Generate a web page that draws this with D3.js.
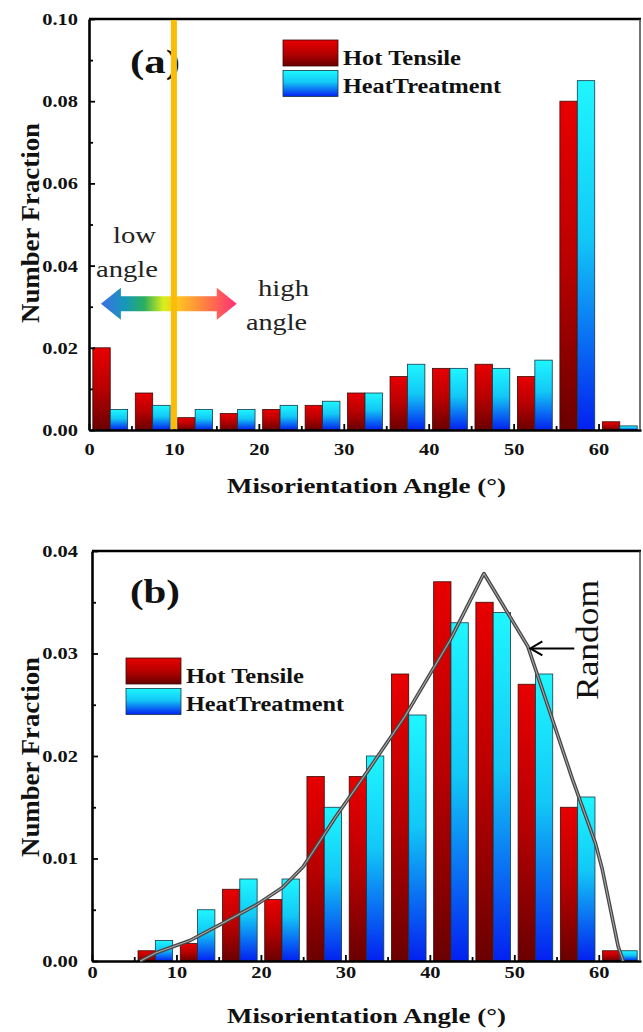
<!DOCTYPE html>
<html>
<head>
<meta charset="utf-8">
<script src="https://cdn.jsdelivr.net/npm/d3@7"></script>
<style>
  body { margin: 0; background: #fff; }
  svg { display: block; }
</style>
</head>
<body>
<div class="viz"></div>
<script>
// bin centres (5 degree bins)
const binCenters = [2.5, 7.5, 12.5, 17.5, 22.5, 27.5, 32.5, 37.5, 42.5, 47.5, 52.5, 57.5, 62.5];

// panel (a)
const hotTensileA = [0.020, 0.009, 0.003, 0.004, 0.005, 0.006, 0.009, 0.013, 0.015, 0.016, 0.013, 0.080, 0.002];
const heatTreatA  = [0.005, 0.006, 0.005, 0.005, 0.006, 0.007, 0.009, 0.016, 0.015, 0.015, 0.017, 0.085, 0.001];

// panel (b)
const hotTensileB = [0, 0.001, 0.0017, 0.007, 0.006, 0.018, 0.018, 0.028, 0.037, 0.035, 0.027, 0.015, 0.001];
const heatTreatB  = [0, 0.002, 0.005, 0.008, 0.008, 0.015, 0.020, 0.024, 0.033, 0.034, 0.028, 0.016, 0.001];

// random (Mackenzie) curve
const randomAngle = [5.7, 7.6, 11.6, 15.5, 19.5, 22.6, 25, 28.8, 32.7, 37, 42.4, 46.4, 51.6, 56.9, 59.6, 60.4, 62.3, 62.9];
const randomFrac  = [0, 0.0008, 0.002, 0.0037, 0.0055, 0.0072, 0.0092, 0.014, 0.0186, 0.0238, 0.0313, 0.0378, 0.0307, 0.0177, 0.0115, 0.009, 0.0014, 0];

const xTicks = [0, 10, 20, 30, 40, 50, 60];
const xMinorTicks = [5, 15, 25, 35, 45, 55];
const yTicksA = [0, 0.02, 0.04, 0.06, 0.08, 0.10];
const yMinorA = [0.01, 0.03, 0.05, 0.07, 0.09];
const yTicksB = [0, 0.01, 0.02, 0.03, 0.04];
const yMinorB = [0.005, 0.015, 0.025, 0.035];
const seriesNames = ["Hot Tensile", "HeatTreatment"];

const serif = '"Liberation Serif", "Times New Roman", serif';
const width = 643, height = 1032;
const barW = 2.05;

const svg = d3.select(".viz").append("svg")
  .attr("width", width)
  .attr("height", height)
  .style("font-family", serif);

const defs = svg.append("defs");

const gRed = defs.append("linearGradient").attr("id", "gradRed")
  .attr("x1", 0).attr("y1", 0).attr("x2", 0).attr("y2", 1);
gRed.append("stop").attr("offset", "0%").attr("stop-color", "#e80000");
gRed.append("stop").attr("offset", "50%").attr("stop-color", "#b80000");
gRed.append("stop").attr("offset", "100%").attr("stop-color", "#6a0000");

const gCyan = defs.append("linearGradient").attr("id", "gradCyan")
  .attr("x1", 0).attr("y1", 0).attr("x2", 0).attr("y2", 1);
gCyan.append("stop").attr("offset", "0%").attr("stop-color", "#1ff6ff");
gCyan.append("stop").attr("offset", "45%").attr("stop-color", "#12c8f6");
gCyan.append("stop").attr("offset", "100%").attr("stop-color", "#0320f0");

const gRainbow = defs.append("linearGradient").attr("id", "gradRainbow")
  .attr("x1", 0).attr("y1", 0).attr("x2", 1).attr("y2", 0);
[["0%", "#3d6ee6"], ["18%", "#1599b8"], ["32%", "#2cae5c"], ["46%", "#d8ee1c"],
 ["58%", "#ffc023"], ["78%", "#ff7a45"], ["100%", "#ff2f78"]].forEach(s =>
  gRainbow.append("stop").attr("offset", s[0]).attr("stop-color", s[1]));

function stretch(sel, k) {
  sel.each(function () {
    const L = this.getComputedTextLength();
    d3.select(this).attr("textLength", L * k).attr("lengthAdjust", "spacingAndGlyphs");
  });
}

function addText(x, y, str, size, weight, len) {
  return svg.append("text")
    .attr("x", x).attr("y", y)
    .attr("font-size", size)
    .attr("font-weight", weight)
    .attr("textLength", len)
    .attr("lengthAdjust", "spacingAndGlyphs")
    .text(str);
}

function drawPanel(o) {
  const x = d3.scaleLinear().domain([0, 65]).range([o.left, o.right]);
  const y = d3.scaleLinear().domain([0, o.yMax]).range([o.bottom, o.top]);
  const g = svg.append("g");

  // bars
  const hot = binCenters.map((c, i) => ({ c, v: o.hot[i] })).filter(d => d.v > 0);
  const heat = binCenters.map((c, i) => ({ c, v: o.heat[i] })).filter(d => d.v > 0);

  g.selectAll(".hot").data(hot).enter().append("rect")
    .attr("x", d => x(d.c - barW))
    .attr("width", d => x(d.c) - x(d.c - barW))
    .attr("y", d => y(d.v))
    .attr("height", d => y(0) - y(d.v))
    .attr("fill", "url(#gradRed)")
    .attr("stroke", "#3a0a0a")
    .attr("stroke-width", 0.8);

  g.selectAll(".heat").data(heat).enter().append("rect")
    .attr("x", d => x(d.c))
    .attr("width", d => x(d.c + barW) - x(d.c))
    .attr("y", d => y(d.v))
    .attr("height", d => y(0) - y(d.v))
    .attr("fill", "url(#gradCyan)")
    .attr("stroke", "#123a48")
    .attr("stroke-width", 0.8);

  // axes
  const xAxis = g.append("g")
    .attr("transform", `translate(0,${o.bottom})`)
    .call(d3.axisBottom(x).tickValues(xTicks).tickSizeInner(-6).tickSizeOuter(0).tickPadding(o.xPad));
  g.append("g")
    .attr("transform", `translate(0,${o.bottom})`)
    .call(d3.axisBottom(x).tickValues(xMinorTicks).tickSizeInner(-4).tickSizeOuter(0).tickFormat(""))
    .call(a => a.select(".domain").remove());

  const yAxis = g.append("g")
    .attr("transform", `translate(${o.left},0)`)
    .call(d3.axisLeft(y).tickValues(o.yTicks).tickSizeInner(-6).tickSizeOuter(0)
      .tickPadding(o.yPad).tickFormat(d3.format(".2f")));
  g.append("g")
    .attr("transform", `translate(${o.left},0)`)
    .call(d3.axisLeft(y).tickValues(o.yMinor).tickSizeInner(-4).tickSizeOuter(0).tickFormat(""))
    .call(a => a.select(".domain").remove());

  [xAxis, yAxis].forEach(a => {
    a.select(".domain").attr("stroke", "#000").attr("stroke-width", 2.6);
    a.selectAll("text")
      .attr("font-family", serif)
      .attr("font-size", 17)
      .attr("font-weight", "bold")
      .attr("fill", "#111");
  });
  g.selectAll(".tick line").attr("stroke", "#000").attr("stroke-width", 1.8);
  stretch(xAxis.selectAll("text"), 1.2);
  stretch(yAxis.selectAll("text"), 1.2);

  // frame
  g.append("line")
    .attr("x1", o.left).attr("x2", o.right)
    .attr("y1", o.top).attr("y2", o.top)
    .attr("stroke", "#000").attr("stroke-width", 2.4);
  g.append("line")
    .attr("x1", o.right - 1).attr("x2", o.right - 1)
    .attr("y1", o.top).attr("y2", o.bottom)
    .attr("stroke", "#444").attr("stroke-width", 1.5);

  // axis titles
  addText(227, o.xTitleY, "Misorientation Angle (°)", 22, "bold", 279).attr("fill", "#111");
  svg.append("text")
    .attr("transform", `translate(39,${o.yTitleY}) scale(1.15,1) rotate(-90)`)
    .attr("text-anchor", "middle")
    .attr("font-size", 22)
    .attr("font-weight", "bold")
    .attr("textLength", 200)
    .attr("lengthAdjust", "spacingAndGlyphs")
    .attr("fill", "#111")
    .text("Number Fraction");

  // panel label
  addText(130, o.labelY, o.label, 34, "bold", 50).attr("fill", "#111");

  // legend
  const sw = [["url(#gradRed)", "#3a0a0a"], ["url(#gradCyan)", "#123a48"]];
  seriesNames.forEach((name, i) => {
    svg.append("rect")
      .attr("x", o.legX).attr("y", o.legY + i * 30.5)
      .attr("width", 55).attr("height", 26)
      .attr("fill", sw[i][0]).attr("stroke", sw[i][1]).attr("stroke-width", 0.8);
    addText(o.legX + 60, o.legY + 25 + i * 28, name, 20, "bold", i === 0 ? 118 : 158).attr("fill", "#111");
  });

  return { x, y, g };
}

// ---------- panel (a) ----------
const pa = drawPanel({
  left: 89, right: 641, top: 19, bottom: 430, yMax: 0.10,
  hot: hotTensileA, heat: heatTreatA,
  yTicks: yTicksA, yMinor: yMinorA,
  xPad: 13, yPad: 11,
  xTitleY: 493, yTitleY: 223,
  label: "(a)", labelY: 73,
  legX: 283, legY: 40
});

// low / high angle arrow
const ax0 = pa.x(1.4), ax1 = pa.x(17.4), ay = pa.y(0.0307), hl = 20;
svg.append("path")
  .attr("d", `M${ax0},${ay} L${ax0 + hl},${ay - 16} L${ax0 + hl},${ay - 7.5} L${ax1 - hl},${ay - 7.5}
              L${ax1 - hl},${ay - 16} L${ax1},${ay} L${ax1 - hl},${ay + 16} L${ax1 - hl},${ay + 7.5}
              L${ax0 + hl},${ay + 7.5} L${ax0 + hl},${ay + 16} Z`)
  .attr("fill", "url(#gradRainbow)");

addText(113, 243, "low", 24, "normal", 43).attr("fill", "#222");
addText(96, 277, "angle", 24, "normal", 62).attr("fill", "#222");
addText(258, 296, "high", 24, "normal", 51).attr("fill", "#222");
addText(246, 330, "angle", 24, "normal", 61).attr("fill", "#222");

// 10 degree boundary
svg.append("line")
  .attr("x1", pa.x(10)).attr("x2", pa.x(10))
  .attr("y1", pa.y(0.10) + 1).attr("y2", pa.y(0) - 1)
  .attr("stroke", "#fbbc06").attr("stroke-width", 6);

// ---------- panel (b) ----------
const pb = drawPanel({
  left: 92, right: 641, top: 551, bottom: 961, yMax: 0.04,
  hot: hotTensileB, heat: heatTreatB,
  yTicks: yTicksB, yMinor: yMinorB,
  xPad: 5, yPad: 14,
  xTitleY: 1023, yTitleY: 757,
  label: "(b)", labelY: 603,
  legX: 126, legY: 658
});

// random curve
const line = d3.line()
  .x((d, i) => pb.x(randomAngle[i]))
  .y(d => pb.y(d));
svg.append("path")
  .attr("d", line(randomFrac))
  .attr("fill", "none")
  .attr("stroke", "#464646")
  .attr("stroke-width", 3.6)
  .attr("stroke-linejoin", "round");
svg.append("path")
  .attr("d", line(randomFrac))
  .attr("fill", "none")
  .attr("stroke", "#a8a8a8")
  .attr("stroke-width", 1.1)
  .attr("stroke-linejoin", "round");

// "Random" arrow
const rx0 = pb.x(51.9), rx1 = pb.x(57.1), ry = pb.y(0.0305);
svg.append("line")
  .attr("x1", rx0 + 1).attr("x2", rx1).attr("y1", ry).attr("y2", ry)
  .attr("stroke", "#000").attr("stroke-width", 2);
svg.append("path")
  .attr("d", `M${rx0 + 12},${ry - 7} L${rx0},${ry} L${rx0 + 12},${ry + 7}`)
  .attr("fill", "none").attr("stroke", "#000").attr("stroke-width", 2);

svg.append("text")
  .attr("transform", "translate(598,640) scale(1.2,1) rotate(-90)")
  .attr("text-anchor", "middle")
  .attr("font-size", 26)
  .attr("textLength", 120)
  .attr("lengthAdjust", "spacingAndGlyphs")
  .attr("fill", "#111")
  .text("Random");
</script>
</body>
</html>
